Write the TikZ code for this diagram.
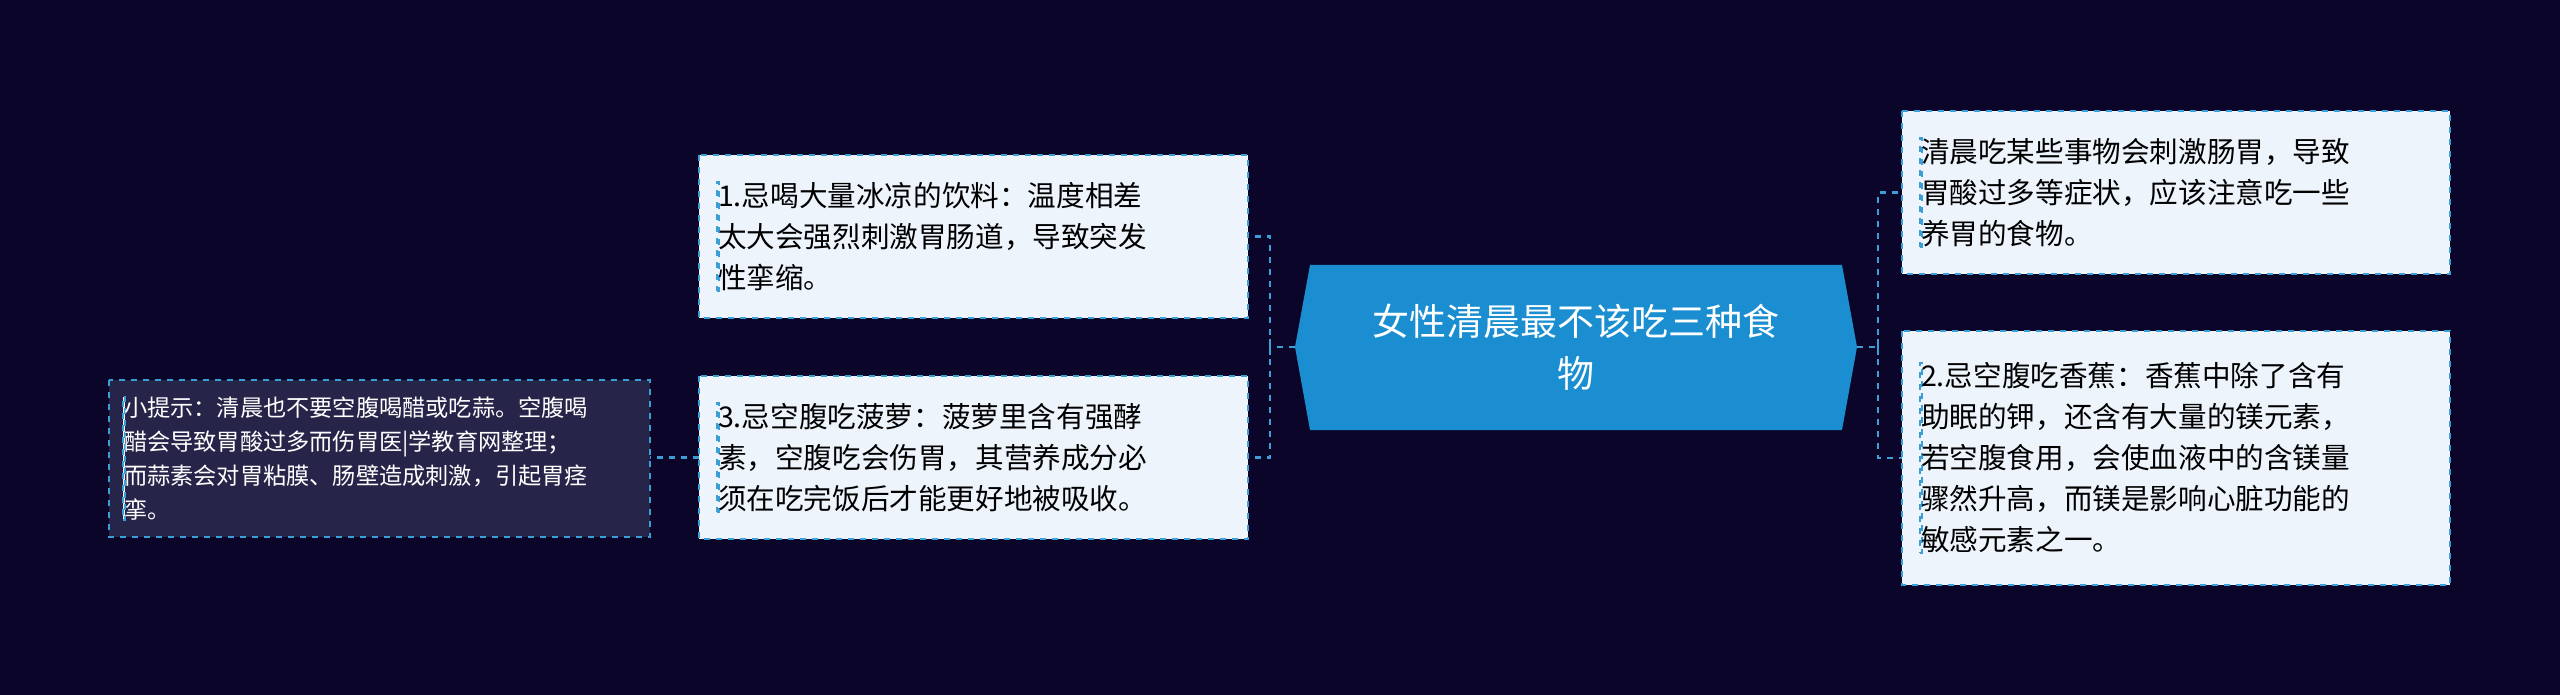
\documentclass[tikz,border=0pt]{standalone}
\usepackage{fontspec}
\setmainfont{Noto Sans CJK SC}
\begin{document}
\begin{tikzpicture}[x=0.5pt,y=-0.5pt,
  box/.style={draw=boxline,dashed,line width=1pt,fill=boxfill,text=black,anchor=north west,inner sep=0pt,align=left,font=\fontsize{14.3pt}{20.5pt}\selectfont,text width=0pt},
  conn/.style={draw=boxline,dashed,line width=1.2pt}]
\definecolor{bg}{HTML}{0B0629}
\definecolor{boxline}{HTML}{3A9FD6}
\definecolor{boxfill}{HTML}{EEF4FC}
\definecolor{center}{HTML}{1A8ED0}
\definecolor{tipfill}{HTML}{262448}
\fill[bg] (0,0) rectangle (2560,695);
\useasboundingbox (0,0) rectangle (2560,695);
% center
\fill[center] (1295,347) -- (1310,265) -- (1842,265) -- (1857,347) -- (1842,430) -- (1310,430) -- cycle;
\node[text=white,align=center,font=\fontsize{18.5pt}{26pt}\selectfont] (c) at (1576,347) {女性清晨最不该吃三种食\\物};
% boxes
\path[box] (699,155) rectangle (1248,318);
\node[box,anchor=west] (l1) at (716,236.5) {1.忌喝大量冰凉的饮料：温度相差\\太大会强烈刺激胃肠道，导致突发\\性挛缩。};
\path[box] (699,376) rectangle (1248,539);
\node[box,anchor=west] (l3) at (716,457.5) {3.忌空腹吃菠萝：菠萝里含有强酵\\素，空腹吃会伤胃，其营养成分必\\须在吃完饭后才能更好地被吸收。};
\path[box,fill=tipfill] (109,380) rectangle (650,537);
\node[box,anchor=west,text=white,font=\fontsize{11.6pt}{17pt}\selectfont] (tip) at (122,458.5) {小提示：清晨也不要空腹喝醋或吃蒜。空腹喝\\醋会导致胃酸过多而伤胃医|学教育网整理；\\而蒜素会对胃粘膜、肠壁造成刺激，引起胃痉\\挛。};
\path[box] (1902,111) rectangle (2450,274);
\node[box,anchor=west] (r1) at (1919,192.5) {清晨吃某些事物会刺激肠胃，导致\\胃酸过多等症状，应该注意吃一些\\养胃的食物。};
\path[box] (1902,331) rectangle (2450,585);
\node[box,anchor=west] (r2) at (1919,458) {2.忌空腹吃香蕉：香蕉中除了含有\\助眠的钾，还含有大量的镁元素，\\若空腹食用，会使血液中的含镁量\\骤然升高，而镁是影响心脏功能的\\敏感元素之一。};
\coordinate (lb) at (1270,347);
\coordinate (rb) at (1878,347);
\draw[conn] (1295,347) -- (lb);
\draw[conn] (lb) -- (1270,236.5) -- (1248,236.5);
\draw[conn] (lb) -- (1270,457.5) -- (1248,457.5);
\draw[conn] (699,457.5) -- (650,457.5);
\draw[conn] (1857,347) -- (rb);
\draw[conn] (rb) -- (1878,192.5) -- (1902,192.5);
\draw[conn] (rb) -- (1878,458) -- (1902,458);
\draw[boxline,line width=1.2pt] (1270,339) -- (1270,355) (1878,339) -- (1878,355);
\end{tikzpicture}
\end{document}
